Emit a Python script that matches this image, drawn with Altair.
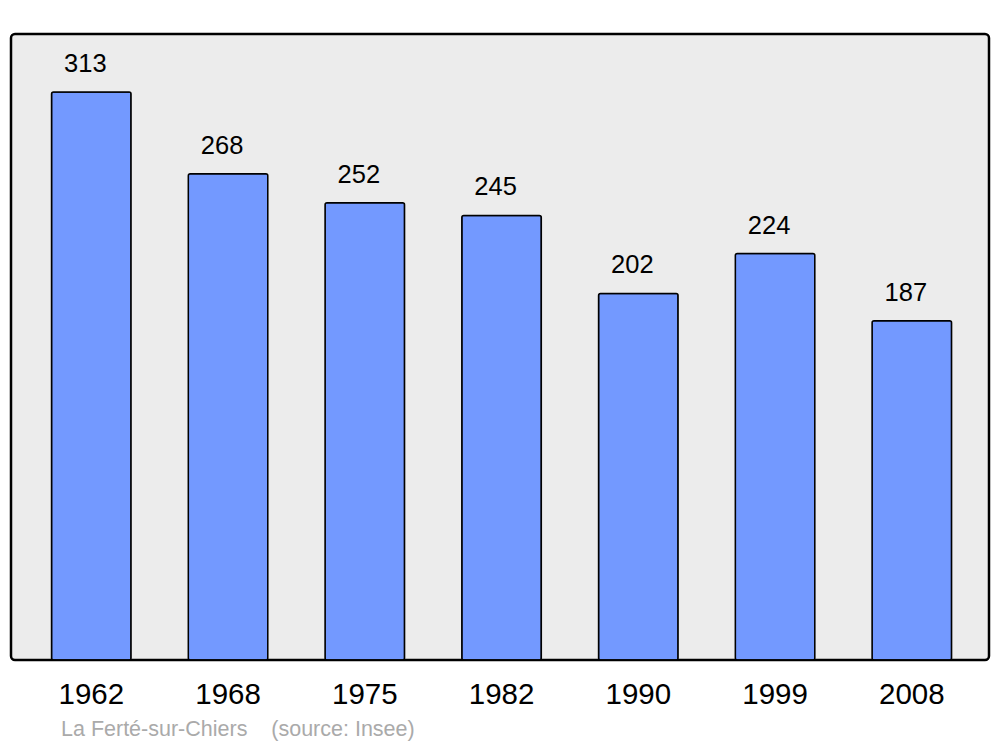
import altair as alt
import pandas as pd

years = ["1962", "1968", "1975", "1982", "1990", "1999", "2008"]
population = [313, 268, 252, 245, 202, 224, 187]
source_text = ["La Ferté-sur-Chiers\u00a0\u00a0\u00a0\u00a0(source: Insee)"]

df = pd.DataFrame({"year": years, "pop": population})

x = alt.X("year:N", sort=years,
          scale=alt.Scale(paddingInner=0.4186, paddingOuter=0.285, align=0.52),
          axis=alt.Axis(title=None, labelAngle=0, domain=False, ticks=False,
                        labelFontSize=29.5, labelFont="Liberation Sans",
                        labelColor="black", labelPadding=20))
y = alt.Y("pop:Q", scale=alt.Scale(domain=[0, 345], nice=False, zero=True), axis=None)

bars = alt.Chart(df).mark_bar(color="#7399FF", stroke="black", strokeWidth=1.5,
                              cornerRadius=2).encode(x=x, y=y)

labels = alt.Chart(df).mark_text(fontSize=25.5, font="Liberation Sans", color="black",
                                 baseline="middle", dy=-28, dx=-6).encode(
    x=x, y=y, text="pop:Q")

src = alt.Chart(pd.DataFrame({"t": source_text})).mark_text(
    fontSize=21.5, font="Liberation Sans", color="#aaaaaa", align="left",
    baseline="middle").encode(x=alt.value(50), y=alt.value(696), text="t:N")

chart = (bars + labels + src).properties(
    width=978, height=626,
    background="white",
    padding={"left": 3, "top": 26, "right": 3, "bottom": 5},
).configure_view(
    fill="#ececec", stroke="black", strokeWidth=2.5, cornerRadius=4
)

chart.save("out.html", embed_options={"renderer": "svg", "actions": False})
